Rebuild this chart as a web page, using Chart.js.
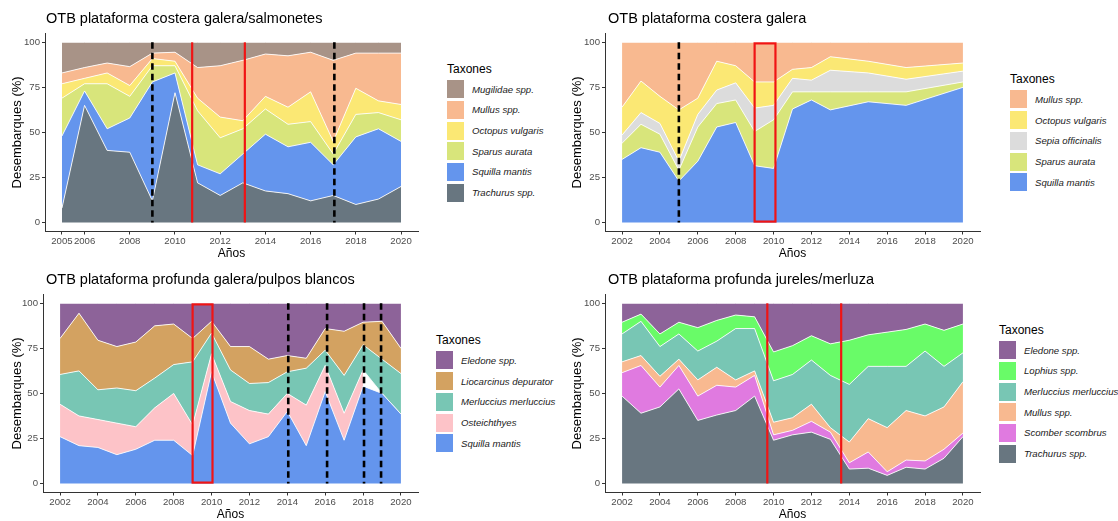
<!DOCTYPE html>
<html lang="es">
<head>
<meta charset="utf-8">
<title>Desembarques OTB</title>
<script src="https://cdn.jsdelivr.net/npm/chart.js@4.4.1/dist/chart.umd.min.js"></script>
<style>
  body { margin: 0; background: #fff; font-family: "Liberation Sans", Arial, sans-serif; }
  #page { position: relative; width: 1118px; height: 521px; overflow: hidden; background: #fff; }
  canvas { position: absolute; }
  .panel-title { position: absolute; font-size: 14.5px; line-height: 16px; color: #000; white-space: nowrap; z-index: 2; }
  .legend { position: absolute; color: #000; z-index: 2; }
  .legend .ltitle { font-size: 12px; line-height: 14px; height: 17px; }
  .legend .item { display: flex; align-items: center; height: 20.7px; }
  .legend .swatch { width: 17px; height: 18px; margin-right: 8px; }
  .legend .item span { font-style: italic; font-size: 9.6px; color: #1a1a1a; white-space: nowrap; }
</style>
</head>
<body>
<div id="page"></div>
<script>
// --- OTB plataforma costera galera/salmonetes ---
const yearsA = [2005, 2006, 2007, 2008, 2009, 2010, 2011, 2012, 2013, 2014, 2015, 2016, 2017, 2018, 2019, 2020];
const trachurusA = [8, 65, 40, 39, 12, 72, 22, 15, 22, 17.5, 16, 12, 15, 10, 13, 20];
const squillaA = [40, 8, 12, 19, 66, 11, 10, 12, 16, 31.5, 26, 32.5, 17, 37.5, 39, 25];
const sparusA = [21, 4, 25, 12, 9, 4, 30, 20, 14, 14, 12.5, 11.5, 6, 12.5, 9, 12];
const octopusA = [8, 3, 6, 6, 4, 2.5, 7, 11.5, 4.5, 7, 9.5, 16.5, 7, 14.5, 6.5, 8.5];
const mullusA = [6, 6, 5.5, 10.5, 3, 5, 17, 28.5, 33.5, 23.5, 28.5, 22, 45, 19.5, 26.5, 28.5];
const mugilidaeA = [17, 14, 11.5, 13.5, 6, 5.5, 14, 13, 10, 6.5, 7.5, 5.5, 10, 6, 6, 6];
const xTicksA = [2005, 2006, 2008, 2010, 2012, 2014, 2016, 2018, 2020];
const dashedA = [2009, 2017.05];
const redLinesA = [2010.76, 2013.09];

// --- OTB plataforma costera galera ---
const yearsB = [2002, 2003, 2004, 2005, 2006, 2007, 2008, 2009, 2010, 2011, 2012, 2013, 2015, 2017, 2020];
const squillaB = [35, 41.5, 39, 23, 34, 53, 55.5, 31.5, 30, 63, 68, 62.5, 67, 65, 75];
const sparusB = [9, 13, 10, 6, 19, 13, 12.5, 19, 27, 9.5, 4.5, 10, 5.5, 7.5, 3];
const sepiaB = [4.5, 6.5, 6, 5, 7, 7.5, 9.5, 13, 8, 7.5, 6.5, 12, 10.5, 7, 6];
const octopusB = [15.5, 17.5, 15, 28.5, 9, 16, 9.5, 14.5, 13, 5, 7, 7.5, 6.5, 6.5, 4.5];
const mullusB = [36, 21.5, 30, 37.5, 31, 10.5, 13, 22, 22, 15, 14, 8, 10.5, 14, 11.5];
const dashedB = [2005];
const boxB = [2009, 2010.1];

// --- OTB plataforma profunda galera/pulpos blancos ---
const yearsC = [2002, 2003, 2004, 2005, 2006, 2007, 2008, 2009, 2010, 2011, 2012, 2013, 2014, 2015, 2016, 2017, 2018, 2019, 2020];
const squillaC = [26, 21, 20, 16, 19, 24, 24, 15.5, 62, 33.5, 22, 26, 40, 21, 51, 24, 54, 50, 38.5];
const osteichthyesC = [18, 16.5, 15.5, 17.5, 12.5, 18, 26, 17, 10, 12, 18.5, 12.5, 10, 22.5, 14.5, 15, 9, 0, 0];
const merlucciusC = [16.5, 25, 16.5, 19.5, 20, 16.5, 16, 35, 11.5, 17.5, 15, 17.5, 12, 20.5, 8.5, 21, 14, 19, 22.5];
const liocarcinusC = [20, 32, 27.5, 23, 27, 29, 22.5, 13, 6.5, 13, 20.5, 13, 9, 5.5, 12, 24.5, 12.5, 21, 14];
const eledoneC = [19.5, 5.5, 20.5, 24, 21.5, 12.5, 11.5, 19.5, 10, 24, 24, 31, 29, 30.5, 14, 15.5, 10.5, 10, 25];
const dashedC = [2014.05, 2016.1, 2018.05, 2018.95];
const boxC = [2009, 2010.05];

// --- OTB plataforma profunda jureles/merluza ---
const yearsD = [2002, 2003, 2004, 2005, 2006, 2007, 2008, 2009, 2010, 2011, 2012, 2013, 2014, 2015, 2016, 2017, 2018, 2019, 2020];
const trachurusD = [48.5, 39, 42.5, 52.5, 35, 38, 40.5, 48.5, 24, 27, 28.5, 24.5, 8, 8.5, 4.5, 9, 8, 14, 26];
const scomberD = [13, 26.5, 11, 13, 13.5, 16.5, 13, 11.5, 3, 2.5, 6, 4, 3.5, 9, 2, 4, 4.5, 5, 2];
const mullusD = [6, 5.5, 6, 3.5, 9, 10, 4, 2.5, 7, 7, 9.5, 2.5, 11.5, 18.5, 24.5, 27.5, 25, 23.5, 28.5];
const merlucciusD = [15.5, 19, 16.5, 14, 16, 14.5, 28.5, 23.5, 23, 24, 24.5, 29, 32, 29, 34, 24.5, 36, 22.5, 16];
const lophiusD = [6.5, 4, 7, 6.5, 13, 11.5, 7.5, 6.5, 16, 16, 13.5, 17.5, 24.5, 17.5, 19, 20.5, 15, 20, 16];
const eledoneD = [10.5, 6, 17, 10.5, 13.5, 9.5, 6.5, 7.5, 27, 23.5, 18, 22.5, 20.5, 17.5, 16, 14.5, 11.5, 15, 11.5];
const redLinesD = [2009.67, 2013.57];

const xTicks = [2002, 2004, 2006, 2008, 2010, 2012, 2014, 2016, 2018, 2020];
const yTicks = [0, 25, 50, 75, 100];

const colors = {
  trachurus: '#687680',
  squilla: '#6495ed',
  sparus: '#d8e57b',
  octopus: '#fbe874',
  mullus: '#f8b990',
  mugilidae: '#a89387',
  sepia: '#dcdcdc',
  eledone: '#8d6399',
  liocarcinus: '#d3a261',
  merluccius: '#78c6b4',
  osteichthyes: '#fdc3c8',
  lophius: '#69fb68',
  scomber: '#e07ae0'
};

// series are listed bottom of the stack first
const panels = [
  {
    title: 'OTB plataforma costera galera/salmonetes',
    left: 0, top: 0, plotLeft: 45, plotRight: 418, titleX: 46, legendX: 447,
    years: yearsA, ticks: xTicksA, dashed: dashedA, red: redLinesA, boxes: [],
    series: [
      ['Trachurus spp.', trachurusA, colors.trachurus],
      ['Squilla mantis', squillaA, colors.squilla],
      ['Sparus aurata', sparusA, colors.sparus],
      ['Octopus vulgaris', octopusA, colors.octopus],
      ['Mullus spp.', mullusA, colors.mullus],
      ['Mugilidae spp.', mugilidaeA, colors.mugilidae]
    ]
  },
  {
    title: 'OTB plataforma costera galera',
    left: 560, top: 0, plotLeft: 45, plotRight: 420, titleX: 608, legendX: 1010,
    years: yearsB, ticks: xTicks, dashed: dashedB, red: [], boxes: [boxB],
    series: [
      ['Squilla mantis', squillaB, colors.squilla],
      ['Sparus aurata', sparusB, colors.sparus],
      ['Sepia officinalis', sepiaB, colors.sepia],
      ['Octopus vulgaris', octopusB, colors.octopus],
      ['Mullus spp.', mullusB, colors.mullus]
    ]
  },
  {
    title: 'OTB plataforma profunda galera/pulpos blancos',
    left: 0, top: 261, plotLeft: 43, plotRight: 418, titleX: 46, legendX: 436,
    years: yearsC, ticks: xTicks, dashed: dashedC, red: [], boxes: [boxC],
    series: [
      ['Squilla mantis', squillaC, colors.squilla],
      ['Osteichthyes', osteichthyesC, colors.osteichthyes],
      ['Merluccius merluccius', merlucciusC, colors.merluccius],
      ['Liocarcinus depurator', liocarcinusC, colors.liocarcinus],
      ['Eledone spp.', eledoneC, colors.eledone]
    ]
  },
  {
    title: 'OTB plataforma profunda jureles/merluza',
    left: 560, top: 261, plotLeft: 45, plotRight: 420, titleX: 608, legendX: 999,
    years: yearsD, ticks: xTicks, dashed: [], red: redLinesD, boxes: [],
    series: [
      ['Trachurus spp.', trachurusD, colors.trachurus],
      ['Scomber scombrus', scomberD, colors.scomber],
      ['Mullus spp.', mullusD, colors.mullus],
      ['Merluccius merluccius', merlucciusD, colors.merluccius],
      ['Lophius spp.', lophiusD, colors.lophius],
      ['Eledone spp.', eledoneD, colors.eledone]
    ]
  }
];

const CANVAS_W = 430, CANVAS_H = 260;
const PAD_TOP = 33.3, X_AXIS_H = 28.5;
const tickFont = { family: '"Liberation Sans", Arial, sans-serif', size: 9.6 };
const axisTitleFont = { family: '"Liberation Sans", Arial, sans-serif', size: 12 };

// vertical reference lines and highlight boxes, drawn over the areas
const markers = {
  id: 'markers',
  afterDatasetsDraw(chart, args, opts) {
    const { ctx } = chart;
    const x = chart.scales.x, y = chart.scales.y;
    const yBottom = y.getPixelForValue(0), yTop = y.getPixelForValue(100);
    ctx.save();
    ctx.lineCap = 'butt';
    ctx.strokeStyle = '#000';
    ctx.lineWidth = 2.6;
    ctx.setLineDash([6.5, 4]);
    opts.dashed.forEach(v => {
      const px = x.getPixelForValue(v);
      ctx.beginPath();
      ctx.moveTo(px, yTop);
      ctx.lineTo(px, yBottom);
      ctx.stroke();
    });
    ctx.setLineDash([]);
    ctx.strokeStyle = '#f01414';
    ctx.lineWidth = 2.2;
    opts.red.forEach(v => {
      const px = x.getPixelForValue(v);
      ctx.beginPath();
      ctx.moveTo(px, yTop);
      ctx.lineTo(px, yBottom);
      ctx.stroke();
    });
    opts.boxes.forEach(b => {
      const x0 = x.getPixelForValue(b[0]), x1 = x.getPixelForValue(b[1]);
      const y0 = y.getPixelForValue(99.4), y1 = y.getPixelForValue(0.5);
      ctx.strokeRect(x0, y0, x1 - x0, y1 - y0);
    });
    ctx.restore();
  }
};

const page = document.getElementById('page');

panels.forEach(p => {
  const span = p.years[p.years.length - 1] - p.years[0];

  const title = document.createElement('div');
  title.className = 'panel-title';
  title.textContent = p.title;
  title.style.left = p.titleX + 'px';
  title.style.top = (p.top + 9.5) + 'px';
  page.appendChild(title);

  const canvas = document.createElement('canvas');
  canvas.width = CANVAS_W;
  canvas.height = CANVAS_H;
  canvas.style.left = p.left + 'px';
  canvas.style.top = p.top + 'px';
  page.appendChild(canvas);

  new Chart(canvas, {
    type: 'line',
    data: {
      datasets: p.series.map((s, i) => ({
        label: s[0],
        data: p.years.map((yr, k) => ({ x: yr, y: s[1][k] })),
        backgroundColor: s[2],
        borderColor: 'rgba(255,255,255,0.85)',
        borderWidth: 1,
        pointRadius: 0,
        tension: 0,
        fill: i === 0 ? 'origin' : '-1',
        // a taxon that drops out leaves an unfilled wedge, as in the stacked area
        segment: {
          backgroundColor: c => (s[1][c.p1DataIndex] === 0 ? 'rgba(255,255,255,0)' : undefined)
        }
      }))
    },
    options: {
      responsive: false,
      animation: false,
      devicePixelRatio: 1,
      layout: { padding: { top: PAD_TOP, right: CANVAS_W - p.plotRight, bottom: 0, left: 0 } },
      plugins: {
        legend: { display: false },
        tooltip: { enabled: false },
        markers: { dashed: p.dashed, red: p.red, boxes: p.boxes }
      },
      scales: {
        x: {
          type: 'linear',
          min: p.years[0] - span * 0.05,
          max: p.years[p.years.length - 1] + span * 0.05,
          afterFit: s => { s.height = X_AXIS_H; },
          afterBuildTicks: s => { s.ticks = p.ticks.map(v => ({ value: v })); },
          ticks: { autoSkip: false, maxRotation: 0, font: tickFont, color: '#4d4d4d', padding: 1.5, callback: v => String(v) },
          grid: { display: true, drawOnChartArea: false, drawTicks: true, tickLength: 3, color: '#333' },
          border: { display: true, color: '#333', width: 1 },
          title: { display: true, text: 'Años', color: '#000', font: { ...axisTitleFont, lineHeight: 1 }, padding: 0 }
        },
        y: {
          stacked: true,
          min: -5,
          max: 105,
          afterFit: s => { s.width = p.plotLeft; },
          afterBuildTicks: s => { s.ticks = yTicks.map(v => ({ value: v })); },
          ticks: { font: tickFont, color: '#4d4d4d', padding: 2, callback: v => String(v) },
          grid: { display: true, drawOnChartArea: false, drawTicks: true, tickLength: 3, color: '#333' },
          border: { display: true, color: '#333', width: 1 },
          title: { display: true, text: 'Desembarques (%)', color: '#000', font: { ...axisTitleFont, size: 13 }, padding: { top: 10, bottom: 0 } }
        }
      }
    },
    plugins: [markers]
  });

  // legend, top of the stack first, centred on the plot
  const legend = document.createElement('div');
  legend.className = 'legend';
  const n = p.series.length;
  const midY = p.top + PAD_TOP + (CANVAS_H - PAD_TOP - X_AXIS_H) / 2;
  legend.style.left = p.legendX + 'px';
  legend.style.top = (midY - (17 + n * 20.7) / 2) + 'px';
  const lt = document.createElement('div');
  lt.className = 'ltitle';
  lt.textContent = 'Taxones';
  legend.appendChild(lt);
  p.series.slice().reverse().forEach(s => {
    const item = document.createElement('div');
    item.className = 'item';
    const sw = document.createElement('div');
    sw.className = 'swatch';
    sw.style.background = s[2];
    const label = document.createElement('span');
    label.textContent = s[0];
    item.appendChild(sw);
    item.appendChild(label);
    legend.appendChild(item);
  });
  page.appendChild(legend);
});
</script>
</body>
</html>
